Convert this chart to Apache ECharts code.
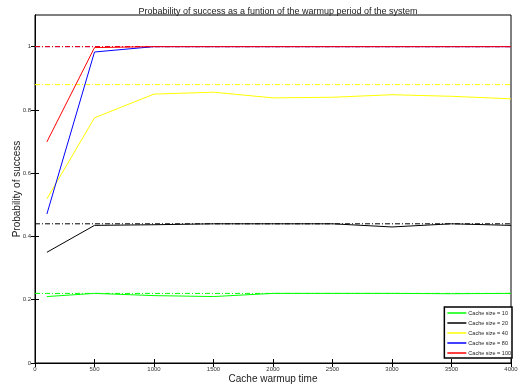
<!DOCTYPE html>
<html><head><meta charset="utf-8">
<script src="https://cdn.jsdelivr.net/npm/echarts@6/dist/echarts.min.js"></script>
<style>html,body{margin:0;padding:0;background:#fff}#c{width:526px;height:389px}</style>
</head><body><div id="c"></div>
<script>
const xVals = [100, 500, 1000, 1500, 2000, 2500, 3000, 3500, 4000];
const names = ['Cache size = 10', 'Cache size = 20', 'Cache size = 40', 'Cache size = 80', 'Cache size = 100'];
const colors = ['#00ff00', '#000000', '#ffff00', '#0000ff', '#ff0000'];
const size10 = [0.21, 0.22, 0.213, 0.21, 0.22, 0.22, 0.22, 0.219, 0.22];
const size20 = [0.35, 0.435, 0.437, 0.44, 0.44, 0.44, 0.43, 0.44, 0.435];
const size40 = [0.519, 0.775, 0.85, 0.856, 0.838, 0.84, 0.848, 0.843, 0.835];
const size80 = [0.471, 0.983, 1.0, 1.0, 1.0, 1.0, 1.0, 1.0, 1.0];
const size100 = [0.699, 0.997, 1.0, 1.0, 1.0, 1.0, 1.0, 1.0, 1.0];
const refLevels = [0.22, 0.44, 0.88, 1.0, 1.0];
const refRange = [0, 4000];
const xTicks = ['0', '500', '1000', '1500', '2000', '2500', '3000', '3500', '4000'];

const allData = [size10, size20, size40, size80, size100];
const series = [];
refLevels.forEach((v, i) => {
  series.push({
    type: 'line', name: 'ref' + i, silent: true, symbol: 'none',
    data: refRange.map(x => [x, v]),
    lineStyle: { color: colors[i], width: 1, type: [5, 2, 1, 2] },
    z: 1
  });
});
allData.forEach((d, i) => {
  series.push({
    type: 'line', name: names[i], symbol: 'none',
    data: xVals.map((x, j) => [x, d[j]]),
    lineStyle: { color: colors[i], width: 1 },
    itemStyle: { color: colors[i] },
    z: 2 + i
  });
});

const chart = echarts.init(document.getElementById('c'));
chart.setOption({
  animation: false,
  title: {
    text: 'Probability of success as a funtion of the warmup period of the system',
    left: 273, textAlign: 'center', top: 2,
    textStyle: { fontSize: 9, fontWeight: 'normal', color: '#222', fontFamily: 'Liberation Sans' }
  },
  grid: { left: 35, right: 15, top: 15, bottom: 26, show: true, borderColor: '#000', borderWidth: 1, outerBoundsMode: 'none', containLabel: false },
  legend: {
    data: names, orient: 'vertical', right: 14, bottom: 31,
    backgroundColor: '#fff', borderColor: '#000', borderWidth: 1.5,
    padding: [3, 1, 2, 3], itemGap: 4, itemWidth: 19, itemHeight: 1.5,
    icon: 'rect',
    textStyle: { fontSize: 5.5, color: '#222', fontFamily: 'Liberation Sans', padding: [0, 0, 0, -3] }
  },
  xAxis: [{
    type: 'value', min: 0, max: 4000, interval: 500,
    name: 'Cache warmup time', nameLocation: 'middle', nameGap: 11, nameMoveOverlap: false,
    nameTextStyle: { fontSize: 10, color: '#222', fontFamily: 'Liberation Sans' },
    axisLine: { lineStyle: { color: '#000', width: 1 } },
    axisTick: { inside: true, length: 4, lineStyle: { color: '#000' } },
    axisLabel: { fontSize: 6, color: '#333', margin: 3, fontFamily: 'Liberation Sans',
      formatter: (v) => xTicks[Math.round(v / 500)] },
    splitLine: { show: false }
  }, {
    type: 'value', min: 0, max: 4000, interval: 500, position: 'top',
    axisLine: { lineStyle: { color: '#000' } },
    axisTick: { inside: true, length: 4, lineStyle: { color: '#000' } },
    axisLabel: { show: false }, splitLine: { show: false }
  }],
  yAxis: [{
    type: 'value', min: 0, max: 1.1, interval: 0.2,
    name: 'Probability of success', nameLocation: 'middle', nameGap: 13, nameMoveOverlap: false,
    nameTextStyle: { fontSize: 10, color: '#222', fontFamily: 'Liberation Sans' },
    axisLine: { lineStyle: { color: '#000', width: 1 } },
    axisTick: { inside: true, length: 4, lineStyle: { color: '#000' }, customValues: [0, 0.2, 0.4, 0.6, 0.8, 1.0] },
    axisLabel: { fontSize: 6, color: '#333', margin: 4, fontFamily: 'Liberation Sans', showMaxLabel: false,
      formatter: (v) => (v > 1.05 ? '' : String(Math.round(v * 10) / 10)) },
    splitLine: { show: false }
  }, {
    type: 'value', min: 0, max: 1.1, interval: 0.2, position: 'right',
    axisLine: { lineStyle: { color: '#000' } },
    axisTick: { inside: true, length: 4, lineStyle: { color: '#000' }, customValues: [0, 0.2, 0.4, 0.6, 0.8, 1.0] },
    axisLabel: { show: false }, splitLine: { show: false }
  }],
  series: series
});
</script></body></html>
